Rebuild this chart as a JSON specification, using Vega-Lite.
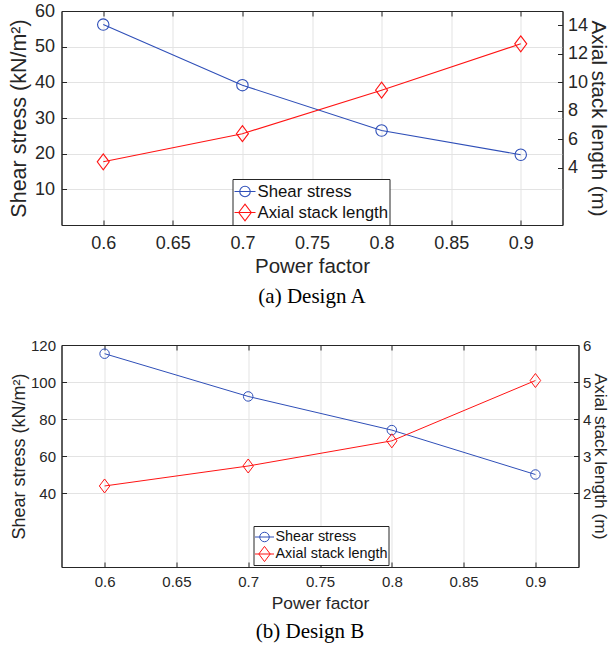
{
  "$schema": "https://vega.github.io/schema/vega-lite/v6.json",
  "padding": {"left": 7.5, "top": 1, "right": 0, "bottom": 0},
  "background": "white",
  "datasets": {
    "pts": [
      {"design": "A", "pf": 0.6, "series": "Shear stress", "value": 56.2},
      {"design": "A", "pf": 0.7, "series": "Shear stress", "value": 39.2},
      {"design": "A", "pf": 0.8, "series": "Shear stress", "value": 26.5},
      {"design": "A", "pf": 0.9, "series": "Shear stress", "value": 19.7},
      {"design": "A", "pf": 0.6, "series": "Axial stack length", "value": 4.43},
      {"design": "A", "pf": 0.7, "series": "Axial stack length", "value": 6.4},
      {"design": "A", "pf": 0.8, "series": "Axial stack length", "value": 9.45},
      {"design": "A", "pf": 0.9, "series": "Axial stack length", "value": 12.7},
      {"design": "B", "pf": 0.6, "series": "Shear stress", "value": 115.3},
      {"design": "B", "pf": 0.7, "series": "Shear stress", "value": 92.2},
      {"design": "B", "pf": 0.8, "series": "Shear stress", "value": 74.0},
      {"design": "B", "pf": 0.9, "series": "Shear stress", "value": 50.0},
      {"design": "B", "pf": 0.6, "series": "Axial stack length", "value": 2.19},
      {"design": "B", "pf": 0.7, "series": "Axial stack length", "value": 2.73},
      {"design": "B", "pf": 0.8, "series": "Axial stack length", "value": 3.41},
      {"design": "B", "pf": 0.9, "series": "Axial stack length", "value": 5.04}
    ]
  },
  "data": {"name": "pts"},
  "resolve": {"scale": {"color": "independent"}},
  "spacing": 30,
  "vconcat": [
    {
      "title": {"text": "(a) Design A", "orient": "bottom", "anchor": "middle", "frame": "group", "font": "Liberation Serif", "fontSize": 21, "fontWeight": "normal", "color": "#000000", "offset": 8.5},
      "width": 501,
      "height": 214,
      "transform": [{"filter": "datum.design === 'A'"}],
      "resolve": {"scale": {"y": "independent"}, "axis": {"x": "independent"}},
      "layer": [
        {
          "transform": [{"filter": "datum.series === 'Shear stress'"}],
          "encoding": {
            "x": {"field": "pf", "type": "quantitative", "scale": {"domain": [0.57, 0.93], "nice": false, "zero": false},
              "axis": {"orient": "bottom", "values": [0.6, 0.65, 0.7, 0.75, 0.8, 0.85, 0.9], "format": ".2~f", "grid": true, "tickSize": -5, "labelFontSize": 18, "labelPadding": 14, "title": "Power factor", "titleFontSize": 20.5, "titlePadding": 4.5}},
            "y": {"field": "value", "type": "quantitative", "scale": {"domain": [0, 60], "nice": false, "zero": false},
              "axis": {"orient": "left", "values": [10, 20, 30, 40, 50, 60], "grid": true, "tickSize": -5, "labelFontSize": 18, "labelPadding": 12, "title": "Shear stress (kN/m²)", "titleFontSize": 21.5, "titlePadding": 4}},
            "color": {"field": "series", "type": "nominal", "scale": {"domain": ["Shear stress", "Axial stack length"], "range": ["#2f4fb8", "#ff1414"]},
              "legend": {"orient": "none", "legendX": 171, "legendY": 168, "title": null, "strokeColor": "#262626", "fillColor": "white", "padding": 1, "labelFontSize": 16.8, "labelFont": "Liberation Sans", "labelColor": "#111111", "symbolSize": 441, "labelOffset": 1, "rowPadding": 0,
                "encode": {"symbols": {"update": {
                  "shape": {"signal": "datum.value === 'Shear stress' ? 'M-1,0L1,0M-0.5,0A0.5,0.5 0 1 1 0.5,0A0.5,0.5 0 1 1 -0.5,0' : 'M-1,0L1,0M-0.6,0L0,-0.8L0.6,0L0,0.8Z'"},
                  "stroke": {"signal": "datum.value === 'Shear stress' ? '#2f4fb8' : '#ff1414'"},
                  "fill": {"value": "transparent"},
                  "strokeWidth": {"value": 1.1},
                  "opacity": {"value": 1}
                }}}}}
          },
          "layer": [
            {"mark": {"type": "line", "strokeWidth": 1.1}},
            {"mark": {"type": "point", "shape": "circle", "filled": false, "size": 130, "strokeWidth": 1.1, "opacity": 1}}
          ]
        },
        {
          "transform": [{"filter": "datum.series === 'Axial stack length'"}],
          "encoding": {
            "x": {"field": "pf", "type": "quantitative", "scale": {"domain": [0.57, 0.93], "nice": false, "zero": false},
              "axis": {"orient": "top", "values": [0.6, 0.65, 0.7, 0.75, 0.8, 0.85, 0.9], "labels": false, "grid": false, "tickSize": -5, "title": null}},
            "y": {"field": "value", "type": "quantitative", "scale": {"domain": [0, 15], "nice": false, "zero": false},
              "axis": {"orient": "right", "values": [4, 6, 8, 10, 12, 14], "grid": false, "tickSize": -5, "labelFontSize": 18, "labelPadding": 10, "title": "Axial stack length (m)", "titleFontSize": 20.5, "titlePadding": 0}},
            "color": {"field": "series", "type": "nominal", "scale": {"domain": ["Shear stress", "Axial stack length"], "range": ["#2f4fb8", "#ff1414"]}}
          },
          "layer": [
            {"mark": {"type": "line", "strokeWidth": 1.1}},
            {"mark": {"type": "point", "shape": "M0,-1L0.75,0L0,1L-0.75,0Z", "filled": false, "size": 256, "strokeWidth": 1.1, "opacity": 1}}
          ]
        }
      ]
    },
    {
      "title": {"text": "(b) Design B", "orient": "bottom", "anchor": "middle", "frame": "group", "font": "Liberation Serif", "fontSize": 21, "fontWeight": "normal", "color": "#000000", "offset": 10, "dx": -10},
      "width": 517,
      "height": 222,
      "transform": [{"filter": "datum.design === 'B'"}],
      "resolve": {"scale": {"y": "independent"}, "axis": {"x": "independent"}},
      "layer": [
        {
          "transform": [{"filter": "datum.series === 'Shear stress'"}],
          "encoding": {
            "x": {"field": "pf", "type": "quantitative", "scale": {"domain": [0.57, 0.93], "nice": false, "zero": false},
              "axis": {"orient": "bottom", "values": [0.6, 0.65, 0.7, 0.75, 0.8, 0.85, 0.9], "format": ".2~f", "grid": true, "tickSize": -5, "labelFontSize": 15, "labelPadding": 12, "title": "Power factor", "titleFontSize": 17.4, "titlePadding": 5}},
            "y": {"field": "value", "type": "quantitative", "scale": {"domain": [0, 120], "nice": false, "zero": false},
              "axis": {"orient": "left", "values": [40, 60, 80, 100, 120], "grid": true, "tickSize": -5, "labelFontSize": 15, "labelPadding": 11, "title": "Shear stress (kN/m²)", "titleFontSize": 18, "titlePadding": 2}},
            "color": {"field": "series", "type": "nominal", "scale": {"domain": ["Shear stress", "Axial stack length"], "range": ["#2f4fb8", "#ff1414"]},
              "legend": {"orient": "none", "legendX": 192, "legendY": 181, "title": null, "strokeColor": "#262626", "fillColor": "white", "padding": 1, "labelFontSize": 14.4, "labelFont": "Liberation Sans", "labelColor": "#111111", "symbolSize": 361, "labelOffset": 1, "rowPadding": 0,
                "encode": {"symbols": {"update": {
                  "shape": {"signal": "datum.value === 'Shear stress' ? 'M-1,0L1,0M-0.5,0A0.5,0.5 0 1 1 0.5,0A0.5,0.5 0 1 1 -0.5,0' : 'M-1,0L1,0M-0.6,0L0,-0.8L0.6,0L0,0.8Z'"},
                  "stroke": {"signal": "datum.value === 'Shear stress' ? '#2f4fb8' : '#ff1414'"},
                  "fill": {"value": "transparent"},
                  "strokeWidth": {"value": 1},
                  "opacity": {"value": 1}
                }}}}}
          },
          "layer": [
            {"mark": {"type": "line", "strokeWidth": 1}},
            {"mark": {"type": "point", "shape": "circle", "filled": false, "size": 90, "strokeWidth": 1, "opacity": 1}}
          ]
        },
        {
          "transform": [{"filter": "datum.series === 'Axial stack length'"}],
          "encoding": {
            "x": {"field": "pf", "type": "quantitative", "scale": {"domain": [0.57, 0.93], "nice": false, "zero": false},
              "axis": {"orient": "top", "values": [0.6, 0.65, 0.7, 0.75, 0.8, 0.85, 0.9], "labels": false, "grid": false, "tickSize": -5, "title": null}},
            "y": {"field": "value", "type": "quantitative", "scale": {"domain": [0, 6], "nice": false, "zero": false},
              "axis": {"orient": "right", "values": [2, 3, 4, 5, 6], "grid": false, "tickSize": -5, "labelFontSize": 15, "labelPadding": 9, "title": "Axial stack length (m)", "titleFontSize": 17.4, "titlePadding": 0}},
            "color": {"field": "series", "type": "nominal", "scale": {"domain": ["Shear stress", "Axial stack length"], "range": ["#2f4fb8", "#ff1414"]}}
          },
          "layer": [
            {"mark": {"type": "line", "strokeWidth": 1}},
            {"mark": {"type": "point", "shape": "M0,-1L0.75,0L0,1L-0.75,0Z", "filled": false, "size": 196, "strokeWidth": 1, "opacity": 1}}
          ]
        }
      ]
    }
  ],
  "config": {
    "font": "Liberation Sans",
    "view": {"stroke": "#262626", "strokeWidth": 1},
    "axis": {
      "domainColor": "#262626",
      "tickColor": "#262626",
      "labelColor": "#262626",
      "titleColor": "#262626",
      "labelFont": "Liberation Sans",
      "titleFont": "Liberation Sans",
      "titleFontWeight": "normal",
      "gridColor": "#e3e3e3",
      "gridWidth": 1,
      "domainWidth": 1,
      "tickWidth": 1
    }
  }
}
